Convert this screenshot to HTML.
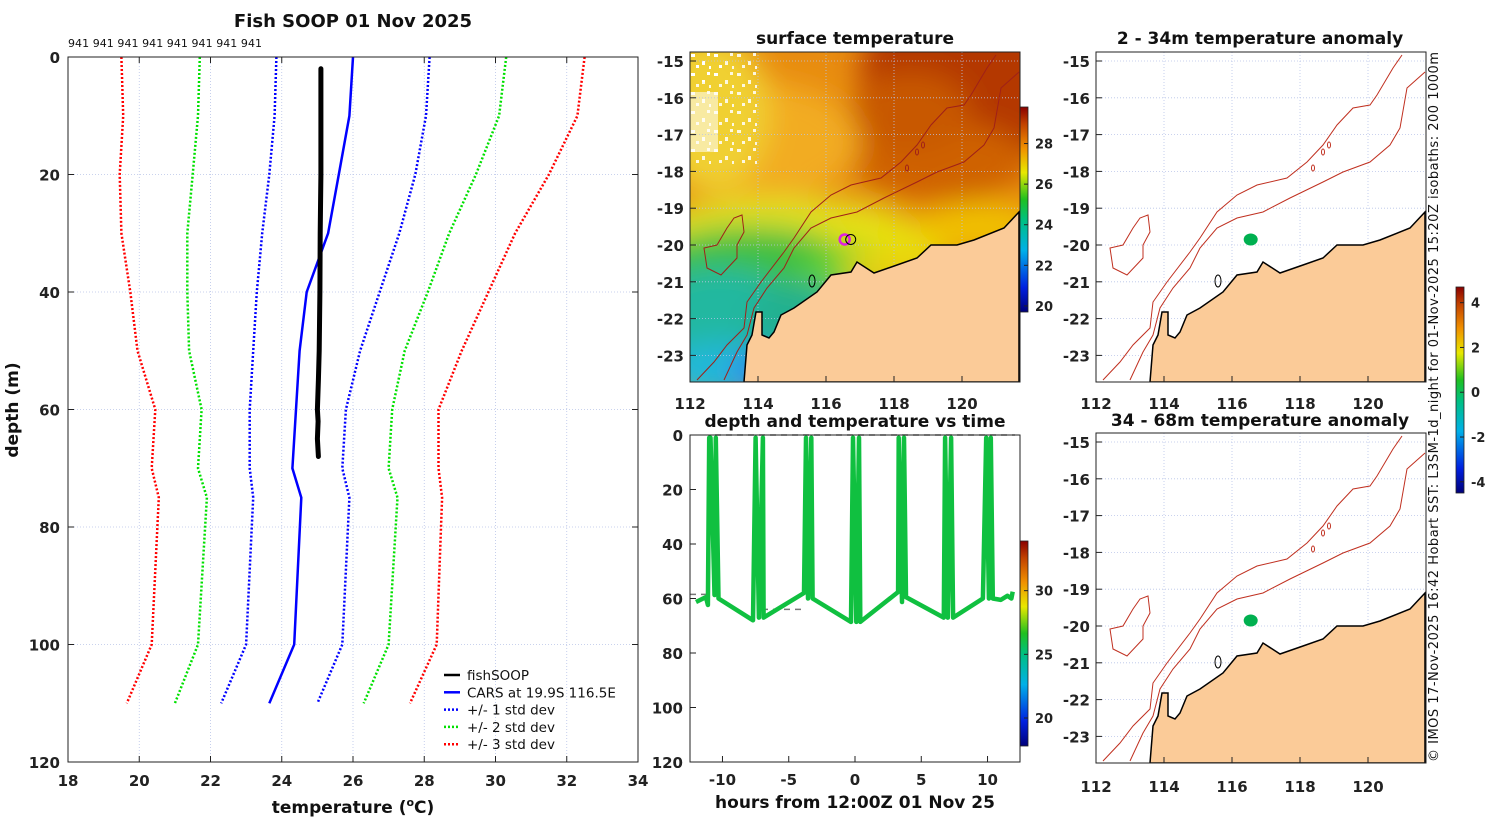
<!DOCTYPE html>
<html><head><meta charset="utf-8"><style>
html,body{margin:0;padding:0;background:#fff;}
svg{display:block;font-family:"DejaVu Sans","Liberation Sans",sans-serif;}
.tk{font-size:15px;font-weight:bold;fill:#222;}
.ttl{font-size:17px;font-weight:bold;fill:#111;}
</style></head><body>
<svg id="fig" width="1500" height="820" viewBox="0 0 1500 820" xmlns="http://www.w3.org/2000/svg">
<defs>
<filter id="blur" x="-20%" y="-20%" width="140%" height="140%"><feGaussianBlur stdDeviation="14"/></filter>
<clipPath id="clipMap"><rect x="0" y="0" width="330" height="330"/></clipPath>
<linearGradient id="jet" x1="0" y1="1" x2="0" y2="0">
<stop offset="0" stop-color="#00007a"/><stop offset="0.12" stop-color="#0020e0"/><stop offset="0.3" stop-color="#00b0e8"/><stop offset="0.45" stop-color="#00c080"/><stop offset="0.55" stop-color="#20c020"/><stop offset="0.68" stop-color="#e8e800"/><stop offset="0.8" stop-color="#f09000"/><stop offset="0.92" stop-color="#c04000"/><stop offset="1" stop-color="#8a0000"/>
</linearGradient>
<pattern id="speck" width="23" height="19" patternUnits="userSpaceOnUse"><rect x="1" y="2" width="4" height="3" fill="#fff"/><rect x="12" y="9" width="3" height="4" fill="#fff"/><rect x="17" y="1" width="3" height="3" fill="#fff"/><rect x="6" y="13" width="3" height="3" fill="#fff"/><rect x="19" y="14" width="2" height="3" fill="#fff"/></pattern>
</defs>
</svg>
<script>
const NS="http://www.w3.org/2000/svg";
const svg=document.getElementById('fig');
function mk(tag,attrs,parent){const e=document.createElementNS(NS,tag);for(const k in attrs)e.setAttribute(k,attrs[k]);(parent||svg).appendChild(e);return e;}
function txt(s,attrs,parent){const e=mk('text',attrs,parent);e.textContent=s;return e;}

/* ===== LEFT PROFILE CHART DATA ===== */
const depthLevels=[0,10,20,30,40,50,60,70,75,100,110];
const carsMean=[26.0,25.9,25.6,25.3,24.7,24.5,24.4,24.3,24.55,24.35,23.65];
const std1Lo=[23.85,23.8,23.65,23.45,23.3,23.2,23.1,23.1,23.2,23.0,22.3];
const std1Hi=[28.15,28.05,27.75,27.3,26.75,26.2,25.8,25.7,25.9,25.7,25.0];
const std2Lo=[21.7,21.65,21.5,21.35,21.35,21.4,21.75,21.65,21.9,21.65,21.0];
const std2Hi=[30.3,30.1,29.45,28.7,28.1,27.45,27.1,27.0,27.25,27.0,26.3];
const std3Lo=[19.5,19.55,19.45,19.5,19.75,19.95,20.45,20.35,20.55,20.35,19.65];
const std3Hi=[32.5,32.3,31.5,30.55,29.8,29.05,28.4,28.4,28.5,28.35,27.6];
const fishDepth=[2,10,20,30,40,50,55,60,62,65,68];
const fishTemp=[25.1,25.1,25.1,25.08,25.07,25.05,25.03,25.0,25.02,25.0,25.03];
const xTicks=[18,20,22,24,26,28,30,32,34];
const yTicks=[0,20,40,60,80,100,120];

const L={x0:68,x1:638,y0:57,y1:762,tmin:18,tmax:34,dmin:0,dmax:120};
const lx=t=>L.x0+(t-L.tmin)/(L.tmax-L.tmin)*(L.x1-L.x0);
const ly=d=>L.y0+(d-L.dmin)/(L.dmax-L.dmin)*(L.y1-L.y0);

const gL=mk('g',{});


mk('rect',{x:L.x0,y:L.y0,width:L.x1-L.x0,height:L.y1-L.y0,fill:'#fff'},gL);
xTicks.forEach(t=>{
  if(t>L.tmin&&t<L.tmax){const g=mk('line',{x1:lx(t),x2:lx(t),y1:L.y0,y2:L.y1,stroke:'#b8c4e8','stroke-width':0.8,'stroke-dasharray':'1,2'},gL);}
  mk('line',{x1:lx(t),x2:lx(t),y1:L.y0,y2:L.y0+6,stroke:'#222'},gL);
  mk('line',{x1:lx(t),x2:lx(t),y1:L.y1,y2:L.y1-6,stroke:'#222'},gL);
  const tl=txt(String(t),{x:lx(t),y:L.y1+24,'text-anchor':'middle',class:'tk'},gL);
  
  
});
yTicks.forEach(d=>{
  if(d>L.dmin&&d<L.dmax){const g=mk('line',{x1:L.x0,x2:L.x1,y1:ly(d),y2:ly(d),stroke:'#b8c4e8','stroke-width':0.8,'stroke-dasharray':'1,2'},gL);}
  mk('line',{x1:L.x0,x2:L.x0+6,y1:ly(d),y2:ly(d),stroke:'#222'},gL);
  mk('line',{x1:L.x1,x2:L.x1-6,y1:ly(d),y2:ly(d),stroke:'#222'},gL);
  const tl=txt(String(d),{x:L.x0-8,y:ly(d)+6,'text-anchor':'end',class:'tk'},gL);
  
  
});
function series(vals,color,dash,w,name){
  const pts=vals.map((t,i)=>lx(t).toFixed(1)+','+ly(depthLevels[i]).toFixed(1)).join(' ');
  const p=mk('polyline',{points:pts,fill:'none',stroke:color,'stroke-width':w,'stroke-dasharray':dash},gL);
  
  
}
series(std3Lo,'#ff0000','2,2',2.5,'std3-low-line');
series(std3Hi,'#ff0000','2,2',2.5,'std3-high-line');
series(std2Lo,'#00e000','2,2',2.5,'std2-low-line');
series(std2Hi,'#00e000','2,2',2.5,'std2-high-line');
series(std1Lo,'#0000ff','2,2',2.5,'std1-low-line');
series(std1Hi,'#0000ff','2,2',2.5,'std1-high-line');
series(carsMean,'#0000ff','none',2.5,'cars-mean-line');
const fp=mk('polyline',{points:fishTemp.map((t,i)=>lx(t).toFixed(1)+','+ly(fishDepth[i]).toFixed(1)).join(' '),fill:'none',stroke:'#000','stroke-width':5,'stroke-linejoin':'round','stroke-linecap':'round'},gL);


mk('rect',{x:L.x0,y:L.y0,width:L.x1-L.x0,height:L.y1-L.y0,fill:'none',stroke:'#222','stroke-width':1},gL);
const t1=txt('Fish SOOP 01 Nov 2025',{x:353,y:27,'text-anchor':'middle',class:'ttl','font-size':'18px',style:'font-size:18px'});


const t941=txt('941 941 941 941 941 941 941 941',{x:68,y:47,'font-size':'11px',fill:'#111',textLength:194});


const yl=txt('depth (m)',{x:0,y:0,'text-anchor':'middle',class:'ttl',transform:'translate(18,410) rotate(-90)'});


const xl=mk('text',{x:353,y:813,'text-anchor':'middle',class:'ttl'});
xl.innerHTML='temperature (<tspan dy="-7" font-size="11">o</tspan><tspan dy="7">C)</tspan>';


const legItems=[['fishSOOP','#000','none'],['CARS at 19.9S 116.5E','#0000ff','none'],['+/- 1 std dev','#0000ff','2,2'],['+/- 2 std dev','#00e000','2,2'],['+/- 3 std dev','#ff0000','2,2']];
const lg=mk('g',{});


legItems.forEach((it,i)=>{
  const y=675+i*17.3;
  const e=mk('g',{},lg);
  
  
  mk('line',{x1:444,x2:460,y1:y,y2:y,stroke:it[1],'stroke-width':2.5,'stroke-dasharray':it[2]},e);
  txt(it[0],{x:467,y:y+5,'font-size':'13.5px',fill:'#111'},e);
});

/* ===== MAP GEOMETRY (local px in 330x330 box) ===== */
const coast=[[329,160],[314,176],[284,188],[267,193],[241,193],[227,206],[207,213],[184,221],[167,210],[161,220],[141,223],[127,240],[104,256],[91,263],[84,280],[79,286],[72,283],[72,260],[66,260],[62,283],[57,293],[54,330],[329,330]];
const iso200=[[306,3],[297,16],[281,43],[274,53],[257,56],[241,73],[227,93],[211,110],[191,126],[161,133],[141,143],[121,160],[104,186],[94,200],[71,230],[57,250],[54,276],[37,293],[24,310],[7,328]];
const iso1000=[[329,20],[311,36],[304,76],[294,93],[274,110],[247,120],[227,130],[194,146],[167,160],[141,166],[121,176],[104,196],[94,216],[77,236],[64,256],[57,283],[47,300],[34,328]];
const island=[[52,163],[54,180],[47,193],[47,206],[31,223],[17,216],[14,196],[27,193],[37,176],[44,166]];
const mapLons=[112,114,116,118,120];
const mapLats=[-15,-16,-17,-18,-19,-20,-21,-22,-23];
const mlx=lon=>(lon-112)*34;
const mly=lat=>9+(-15-lat)*36.8;
const fishLon=116.55, fishLat=-19.85;

function drawMap(ox,oy,name,withSST,xlabY){
  const g=mk('g',{transform:`translate(${ox},${oy})`});
  
  
  const inner=mk('g',{'clip-path':'url(#clipMap)'},g);
  mk('rect',{x:0,y:0,width:330,height:330,fill:'#fff'},inner);
  if(withSST){
    mk('rect',{x:0,y:0,width:330,height:330,fill:'#e88c10'},inner);
    const b=mk('g',{filter:'url(#blur)'},inner);
    [[300,20,130,90,'#b43800'],[250,110,90,40,'#cf6200'],[220,60,60,40,'#c85800'],[70,90,100,60,'#f2ac20'],[20,60,60,80,'#f0d030'],
     [90,175,130,30,'#e0e020'],[180,190,80,25,'#e8e010'],[290,175,60,25,'#f0c000'],[60,230,120,55,'#40c040'],[160,225,50,30,'#60d030'],
     [30,270,80,55,'#20b8a0'],[110,270,50,40,'#20b090'],[30,320,60,30,'#20b8d8'],[70,320,30,25,'#3090e8'],[210,220,60,20,'#e8d010']
    ].forEach(c=>mk('ellipse',{cx:c[0],cy:c[1],rx:c[2],ry:c[3],fill:c[4]},b));
    mk('rect',{x:0,y:0,width:70,height:115,fill:'url(#speck)',opacity:0.85},inner);
    mk('rect',{x:0,y:0,width:35,height:30,fill:'url(#speck)'},inner);
    mk('rect',{x:0,y:40,width:28,height:60,fill:'#fff',opacity:0.55},inner);
  }
  mapLons.forEach(lon=>{mk('line',{x1:mlx(lon),x2:mlx(lon),y1:0,y2:330,stroke:'#b8c4e8','stroke-width':0.8,'stroke-dasharray':'1,2'},inner);});
  mapLats.forEach(lat=>{mk('line',{x1:0,x2:330,y1:mly(lat),y2:mly(lat),stroke:'#b8c4e8','stroke-width':0.8,'stroke-dasharray':'1,2'},inner);});
  const iso=withSST?'#a02018':'#c03020';
  [iso200,iso1000].forEach((a,i)=>{const p=mk('polyline',{points:a.map(q=>q.join(',')).join(' '),fill:'none',stroke:iso,'stroke-width':1},inner);
    
    });
  mk('polygon',{points:island.map(q=>q.join(',')).join(' '),fill:'none',stroke:iso,'stroke-width':1},inner);
  [[217,116],[227,100],[233,93]].forEach(c=>mk('ellipse',{cx:c[0],cy:c[1],rx:1.5,ry:3,fill:'none',stroke:iso},inner));
  const land=mk('polygon',{points:coast.map(q=>q.join(',')).join(' '),fill:'#fbcb98',stroke:'#000','stroke-width':1.5},inner);
  
  
  mk('ellipse',{cx:122,cy:229,rx:3,ry:6,fill:'none',stroke:'#000'},inner);
  if(withSST){
    const fm=mk('circle',{cx:mlx(fishLon),cy:mly(fishLat),r:5,fill:'none',stroke:'#e020e0','stroke-width':2.5},inner);
    
    
    mk('circle',{cx:mlx(fishLon)+6,cy:mly(fishLat),r:5,fill:'none',stroke:'#000','stroke-width':1},inner);
  } else {
    const fm=mk('ellipse',{cx:mlx(fishLon),cy:mly(fishLat),rx:7,ry:6,fill:'#00b050'},inner);
    
    
  }
  mk('rect',{x:0,y:0,width:330,height:330,fill:'none',stroke:'#222'},g);
  mapLons.forEach(lon=>{
    mk('line',{x1:mlx(lon),x2:mlx(lon),y1:330,y2:324,stroke:'#222'},g);
    const t=txt(String(lon),{x:mlx(lon),y:xlabY,'text-anchor':'middle',class:'tk'},g);
    
    
  });
  mapLats.forEach(lat=>{
    mk('line',{x1:0,x2:6,y1:mly(lat),y2:mly(lat),stroke:'#222'},g);
    const t=txt(String(lat),{x:-6,y:mly(lat)+6,'text-anchor':'end',class:'tk'},g);
    
    
  });
  return g;
}
drawMap(690,52,'sst-map',true,357);
drawMap(1096,52,'anomaly-map-2-34m',false,357);
drawMap(1096,433,'anomaly-map-34-68m',false,359);

function colorbar(x,y0,y1,vmin,vmax,ticks,name){
  const g=mk('g',{});
  
  
  mk('rect',{x:x,y:y0,width:8,height:y1-y0,fill:'url(#jet)',stroke:'#222','stroke-width':0.8},g);
  ticks.forEach(v=>{const yy=y1-(v-vmin)/(vmax-vmin)*(y1-y0);
    mk('line',{x1:x+8,x2:x+4,y1:yy,y2:yy,stroke:'#222'},g);
    txt(String(v),{x:x+15,y:yy+5,'font-size':'13px','font-weight':'bold',fill:'#222'},g);});
}
colorbar(1020,107,312,19.7,29.8,[20,22,24,26,28],'sst-colorbar');
colorbar(1456,287,493,-4.5,4.7,[-4,-2,0,2,4],'anomaly-colorbar');
colorbar(1020,541,746,17.8,33.9,[20,25,30],'depth-time-colorbar');

[['surface temperature',855,44,'sst-map-title'],['2 - 34m temperature anomaly',1260,44,'anomaly-top-title'],['depth and temperature vs time',855,427,'depth-time-title'],['34 - 68m temperature anomaly',1260,426,'anomaly-bottom-title']].forEach(t=>{
  const e=txt(t[0],{x:t[1],y:t[2],'text-anchor':'middle',class:'ttl'});
  
  
});

/* ===== DEPTH vs TIME ===== */
const dtHours=[-12.0,-11.25,-11.1,-11.0,-10.9,-10.6,-10.5,-10.3,-7.7,-7.5,-7.25,-6.95,-6.9,-3.85,-3.7,-3.55,-3.3,-3.2,-0.3,-0.15,0.1,0.3,0.4,3.25,3.3,3.55,3.7,3.85,6.7,6.8,7.0,7.25,7.4,9.65,9.9,10.1,10.25,10.4,11.0,11.5,11.8,11.9];
const dtDepths=[61.3,59.5,62.4,1,1,58.7,1,60,68,1,67,1,67,58,1,60,1,60,68.6,1,68.6,1,68.6,57.6,1,61.3,1,59.5,67,1,67,1,67,60,1,60,1,60,60.5,59,60,57.5];
const dtXTicks=[-10,-5,0,5,10];
const dtYTicks=[0,20,40,60,80,100,120];
const D={x0:690,x1:1020,y0:435,y1:762,hmin:-12.45,hmax:12.45,dmin:0,dmax:120};
const dx=h=>D.x0+(h-D.hmin)/(D.hmax-D.hmin)*(D.x1-D.x0);
const dy=d=>D.y0+(d-D.dmin)/(D.dmax-D.dmin)*(D.y1-D.y0);
const gD=mk('g',{});


mk('line',{x1:715,x2:1015,y1:dy(0),y2:dy(0),stroke:'#777','stroke-width':1.5,'stroke-dasharray':'6,5'},gD);
mk('line',{x1:690,x2:710,y1:dy(58.5),y2:dy(58.5),stroke:'#777','stroke-width':1.5,'stroke-dasharray':'6,5'},gD);
mk('line',{x1:762,x2:805,y1:dy(64),y2:dy(64),stroke:'#777','stroke-width':1.5,'stroke-dasharray':'6,5'},gD);
const tr=mk('polyline',{points:dtHours.map((h,i)=>dx(h).toFixed(1)+','+dy(dtDepths[i]).toFixed(1)).join(' '),fill:'none',stroke:'#10c040','stroke-width':4.5,'stroke-linejoin':'round'},gD);


mk('rect',{x:D.x0,y:D.y0,width:D.x1-D.x0,height:D.y1-D.y0,fill:'none',stroke:'#222'},gD);
dtXTicks.forEach(h=>{mk('line',{x1:dx(h),x2:dx(h),y1:D.y1,y2:D.y1-6,stroke:'#222'},gD);
  const t=txt(String(h),{x:dx(h),y:D.y1+23,'text-anchor':'middle',class:'tk'},gD);
  
  });
dtYTicks.forEach(d=>{mk('line',{x1:D.x0,x2:D.x0+6,y1:dy(d),y2:dy(d),stroke:'#222'},gD);
  const t=txt(String(d),{x:D.x0-7,y:dy(d)+6,'text-anchor':'end',class:'tk'},gD);
  
  });
const dxl=txt('hours from 12:00Z 01 Nov 25',{x:855,y:808,'text-anchor':'middle',class:'ttl'});



const cr=txt('© IMOS 17-Nov-2025 16:42 Hobart SST: L3SM-1d_night for 01-Nov-2025 15:20Z isobaths: 200  1000m',{x:0,y:0,'font-size':'13px',fill:'#111',transform:'translate(1438,762) rotate(-90)',textLength:710,'xml:space':'preserve'});


</script>
</body></html>
